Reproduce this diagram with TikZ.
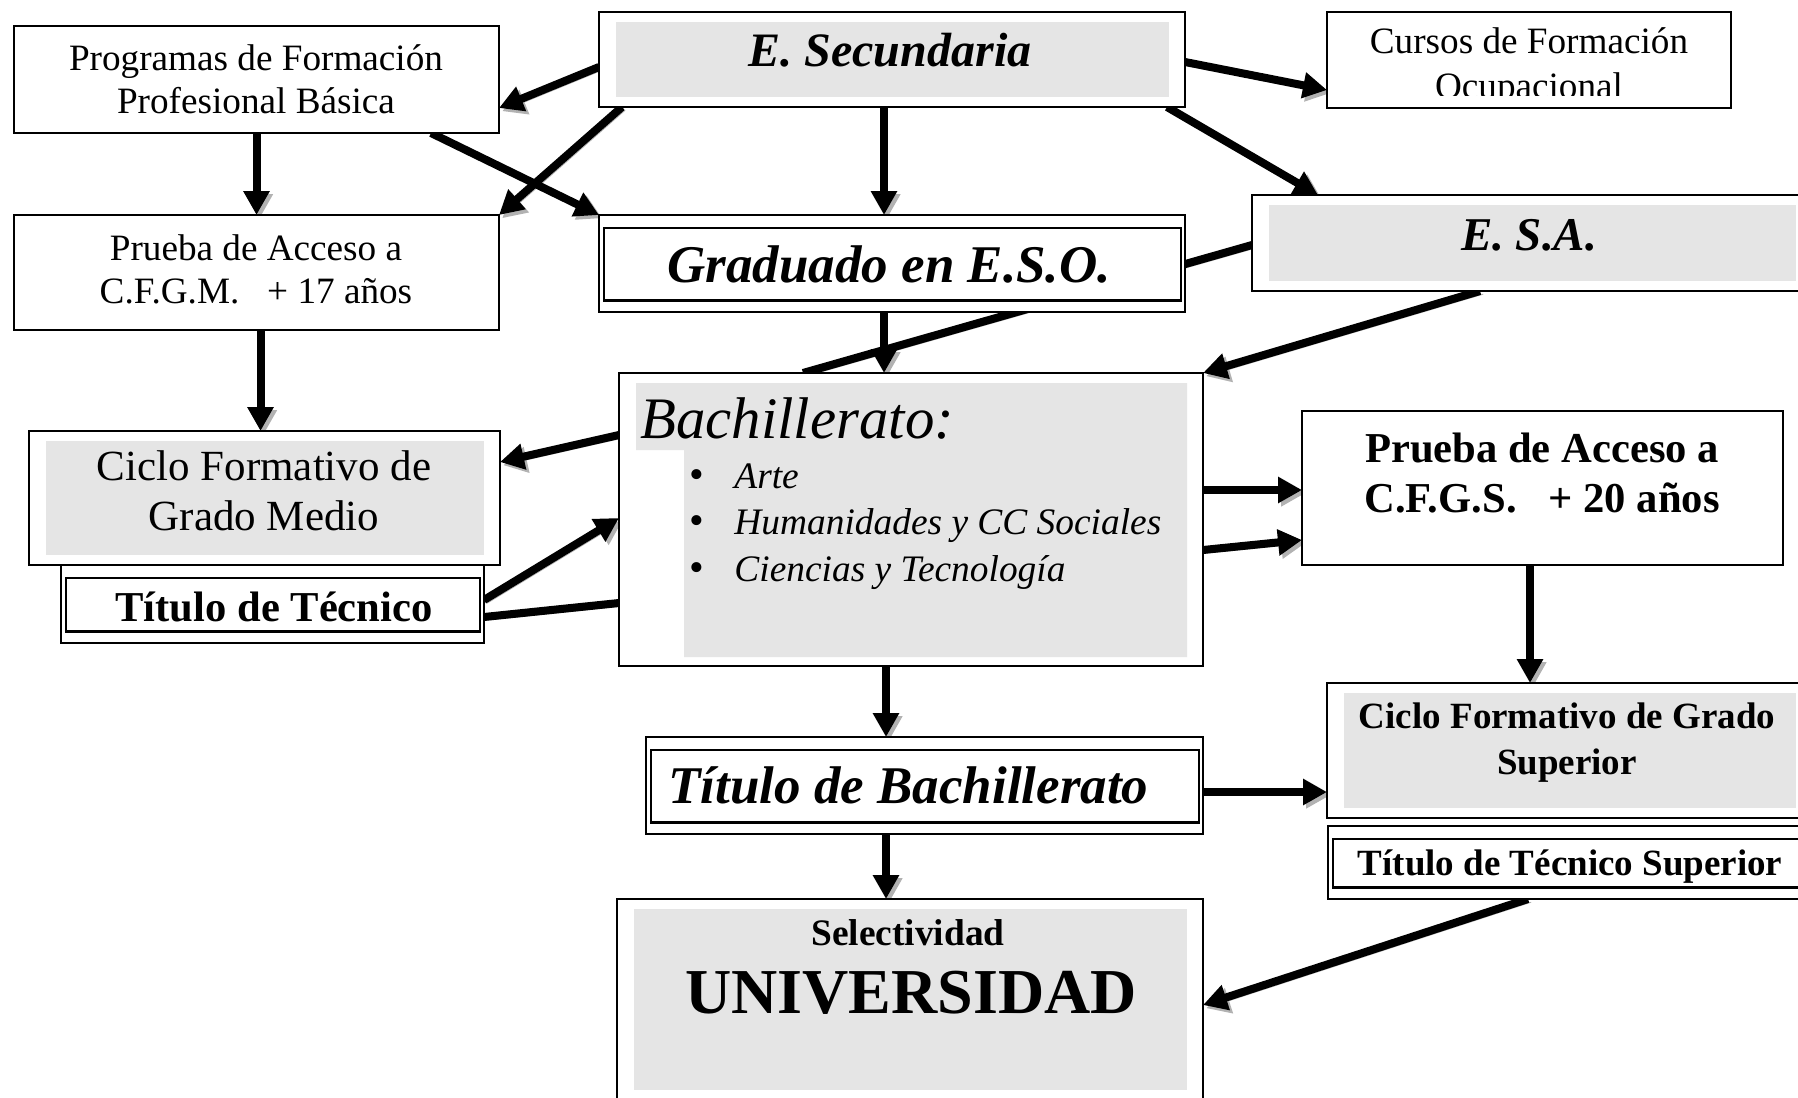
\documentclass[tikz,border=0pt]{standalone}
\usepackage{fontspec}
\setmainfont{Liberation Serif}
\usetikzlibrary{arrows.meta, positioning, calc}
\pgfdeclarelayer{background}
\pgfsetlayers{background,main}
\newcommand{\fsz}[2]{\fontsize{#1}{#2}\selectfont}

\begin{document}
\begin{tikzpicture}[x=0.5pt,y=-0.5pt]
	% Define styles for boxes, texts and arrows
	\tikzstyle{box} = [rectangle, draw=black, line width=0.8pt, fill=white, inner sep=0pt, outer sep=0pt, anchor=north west]
	\tikzstyle{shaded} = [box, path picture={\fill[gray!20] ([shift={(8.5pt,-5pt)}]path picture bounding box.north west) rectangle ([shift={(-8pt,5pt)}]path picture bounding box.south east);}]
	\tikzstyle{lshaded} = [box, path picture={\fill[gray!20] ([shift={(8.5pt,-5pt)}]path picture bounding box.north west) -| ([shift={(-8pt,4.5pt)}]path picture bounding box.south east) -| ([shift={(32.5pt,-38.5pt)}]path picture bounding box.north west) -| cycle;}]
	\tikzstyle{framed} = [box, path picture={\draw[line width=1.3pt] ([shift={(2.5pt,-6.5pt)}]path picture bounding box.north west) rectangle ([shift={(-2pt,5.75pt)}]path picture bounding box.south east);}]
	\tikzstyle{txt} = [inner sep=0pt, anchor=base, align=center]
	\tikzstyle{arrow} = [line width=4pt, -{Triangle[length=12pt,width=12.5pt]}, preaction={draw=black!30, transform canvas={shift={(1.6pt,-1.6pt)}}}]
	\tikzstyle{link} = [line width=4pt, preaction={draw=black!30, transform canvas={shift={(1.6pt,-1.6pt)}}}]
	
	\useasboundingbox (0,0) rectangle (1798,1097);
	
	% Left column
	\node[box, minimum width=242.5pt, minimum height=53.5pt] (prog) at (14,26) {};
	\node[box, minimum width=242.5pt, minimum height=57.5pt] (pcfgm) at (14,215) {};
	\node[shaded, minimum width=235.5pt, minimum height=67pt] (cgm) at (29,431) {};
	\node[framed, minimum width=211.5pt, minimum height=39pt] (ttec) at (61,565) {};
	
	% Middle column
	\node[shaded, minimum width=293pt, minimum height=47.5pt] (sec) at (599,12) {};
	\node[framed, minimum width=293pt, minimum height=48.5pt] (grad) at (599,215) {};
	\node[lshaded, minimum width=292pt, minimum height=146.5pt] (bach) at (619,373) {};
	\node[framed, minimum width=278.5pt, minimum height=48.5pt] (tbach) at (646,737) {};
	\node[shaded, minimum width=293pt, minimum height=100.5pt] (univ) at (617,899) {};
	
	% Right column
	\node[box, minimum width=202pt, minimum height=48pt] (cursos) at (1327,12) {};
	\node[shaded, minimum width=280pt, minimum height=48pt] (esa) at (1252,195) {};
	\node[box, minimum width=240.5pt, minimum height=77pt] (pcfgs) at (1302,411) {};
	\node[shaded, minimum width=242.5pt, minimum height=67.5pt] (cgs) at (1327,683) {};
	\node[framed, minimum width=242pt, minimum height=36.5pt] (tts) at (1328,826) {};
	
	% Texts (two-line texts sit on the baseline of their last line)
	\node[txt, font=\fsz{18.6}{21}] (tprog) at (256,113) {Programas de Formación\\Profesional Básica};
	\node[txt, font=\fsz{18.6}{21.5}] (tpcfgm) at (256,303) {Prueba de Acceso a\\C.F.G.M.\ \ \ + 17 años};
	\node[txt, font=\fsz{21.5}{25}] (tcgm) at (264,530) {Ciclo Formativo de\\Grado Medio};
	\node[txt, font=\fsz{21.3}{24}\bfseries] (tttec) at (274,621) {Título de Técnico};
	\node[txt, font=\fsz{24}{28}\bfseries\itshape] (tsec) at (890,67) {E. Secundaria};
	\node[txt, font=\fsz{26.5}{30}\bfseries\itshape] (tgrad) at (889,282) {Graduado en E.S.O.};
	\node[txt, anchor=base west, font=\fsz{29.4}{32}\itshape] (tbachtit) at (640,438) {Bachillerato:};
	\node[txt, anchor=base west, align=left, font=\fsz{18.7}{23.2}\itshape] (tbachlist) at (689,581) {%
		\makebox[22.5pt][l]{\upshape\fontsize{21}{23}\selectfont\textbullet}Arte\\
		\makebox[22.5pt][l]{\upshape\fontsize{21}{23}\selectfont\textbullet}Humanidades y CC Sociales\\
		\makebox[22.5pt][l]{\upshape\fontsize{21}{23}\selectfont\textbullet}Ciencias y Tecnología};
	\node[txt, anchor=base west, font=\fsz{26.5}{30}\bfseries\itshape] (ttbach) at (668,803) {Título de Bachillerato};
	\node[txt, font=\fsz{18.7}{21}\bfseries] (tsel) at (908,945) {Selectividad};
	\node[txt, font=\fsz{32}{35}\bfseries] (tuniv) at (911,1013) {UNIVERSIDAD};
	\begin{scope}
		\clip (cursos.north west) rectangle ([yshift=6pt]cursos.south east);
		\node[txt, font=\fsz{18.6}{22}] (tcursos) at (1529,98) {Cursos de Formación\\Ocupacional};
	\end{scope}
	\node[txt, font=\fsz{23.5}{27}\bfseries\itshape] (tesa) at (1529,250) {E. S.A.};
	\node[txt, font=\fsz{21.3}{25}\bfseries] (tpcfgs) at (1542,512) {Prueba de Acceso a\\C.F.G.S.\ \ \ + 20 años};
	\node[txt, font=\fsz{18.5}{23}\bfseries] (tcgs) at (1567,774) {Ciclo Formativo de Grado\\Superior};
	\node[txt, font=\fsz{18.5}{22}\bfseries] (ttts) at (1570,875) {Título de Técnico Superior};
	
	% Connectors behind the boxes
	\begin{pgfonlayer}{background}
		\draw [arrow] ([yshift=-27.5pt]sec.north west) -- ([yshift=-41pt]prog.north east);
		\draw [arrow] ([xshift=11.5pt]sec.south west) -- (pcfgm.north east);
		\draw [arrow] ([xshift=-34pt]prog.south east) -- (grad.north west);
		\draw [arrow] (prog.south) -- (prog.south |- pcfgm.north);
		\draw [arrow] ([xshift=-4pt]sec.south) -- ([xshift=-4pt]sec.south |- grad.north);
		\draw [arrow] ([yshift=-25pt]sec.north east) -- ([yshift=-39pt]cursos.north west);
		\draw [arrow] ([xshift=-9pt]sec.south east) -- ([xshift=33pt]esa.north west);
		\draw [link] ([yshift=-25pt]esa.north west) -- ([xshift=92pt]bach.north west);
		\draw [arrow] ([xshift=114pt]esa.south west) -- (bach.north east);
		\draw [arrow] ([xshift=-4pt]grad.south) -- ([xshift=-4pt]grad.south |- bach.north);
		\draw [arrow] ([xshift=2pt]pcfgm.south) -- ([xshift=2pt]pcfgm.south |- cgm.north);
		\draw [arrow] ([yshift=-31pt]bach.north west) -- ([yshift=-15.5pt]cgm.north east);
		\draw [arrow] ([yshift=-17.5pt]ttec.north east) -- ([yshift=-72.5pt]bach.north west);
		\draw [link] ([yshift=-115pt]bach.north west) -- ([yshift=-26pt]ttec.north east);
		\draw [arrow] ([yshift=-58.5pt]bach.north east) -- ([yshift=-58.5pt]bach.north east -| pcfgs.west);
		\draw [arrow] ([yshift=-88.5pt]bach.north east) -- ([yshift=-64.5pt]pcfgs.north west);
		\draw [arrow] ([xshift=-6.25pt]pcfgs.south) -- ([xshift=-6.25pt]pcfgs.south |- cgs.north);
		\draw [arrow] ([xshift=-12.5pt]bach.south) -- ([xshift=-12.5pt]bach.south |- tbach.north);
		\draw [arrow] ([yshift=-27.5pt]tbach.north east) -- ([yshift=-27.5pt]tbach.north east -| cgs.west);
		\draw [arrow] ([xshift=-19.25pt]tbach.south) -- ([xshift=-19.25pt]tbach.south |- univ.north);
		\draw [arrow] ([xshift=100pt]tts.south west) -- ([yshift=-53pt]univ.north east);
	\end{pgfonlayer}
\end{tikzpicture}
\end{document}
